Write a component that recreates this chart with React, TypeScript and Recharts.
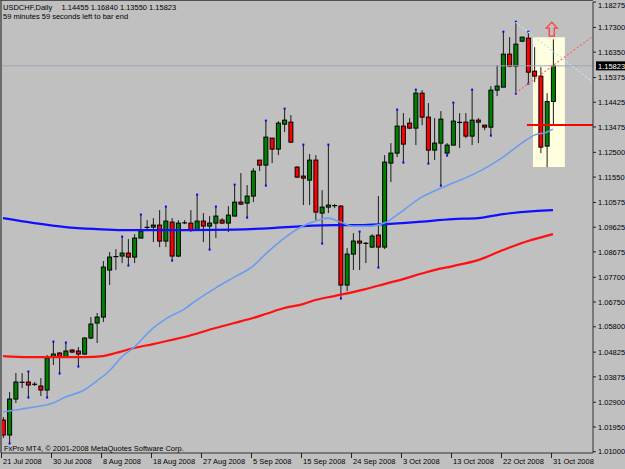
import React from 'react';
import { ComposedChart, Bar, Line, XAxis, YAxis, ReferenceLine, ReferenceArea, ReferenceDot } from 'recharts';

// ---- Daily USDCHF candles (Jul 21 2008 -> Oct 31 2008, incl. Sunday bars) ----
const opens = [
  1.02218, 1.01642, 1.03024, 1.03677, 1.03677, 1.03600, 1.03524, 1.03370, 1.04637, 1.04791,
  1.04637, 1.04906, 1.04868, 1.04752, 1.05367, 1.05943, 1.06173, 1.07978, 1.08477, 1.08516,
  1.08631, 1.08477, 1.09207, 1.09610, 1.09629, 1.09706, 1.09092, 1.09821, 1.08516, 1.09783,
  1.09783, 1.09514, 1.09860, 1.09668, 1.09783, 1.09898, 1.09783, 1.10052, 1.10589, 1.10551,
  1.10820, 1.12202, 1.12010, 1.13047, 1.12624, 1.13584, 1.13661, 1.11933, 1.11588, 1.11434,
  1.12202, 1.10167, 1.10397, 1.10474, 1.10436, 1.07402, 1.08592, 1.09092, 1.09015, 1.08861,
  1.09322, 1.08861, 1.12087, 1.12471, 1.13508, 1.13623, 1.13431, 1.14775, 1.13853, 1.12586,
  1.12855, 1.12471, 1.12778, 1.13661, 1.13661, 1.13124, 1.13738, 1.13546, 1.13469, 1.14890,
  1.15005, 1.16272, 1.15812, 1.16772, 1.16887, 1.15620, 1.15428, 1.12740, 1.14455,
];
const highs = [
  1.02333, 1.03293, 1.04023, 1.04023, 1.04061, 1.03677, 1.03831, 1.04714, 1.05213, 1.04829,
  1.05175, 1.04944, 1.05021, 1.05405, 1.06173, 1.06327, 1.08324, 1.08669, 1.08784, 1.09245,
  1.09168, 1.09360, 1.10090, 1.09898, 1.09975, 1.10282, 1.10397, 1.09975, 1.09898, 1.09898,
  1.10282, 1.10858, 1.10167, 1.10052, 1.10397, 1.09975, 1.10436, 1.11242, 1.11703, 1.11242,
  1.11895, 1.12202, 1.13700, 1.13047, 1.13700, 1.14160, 1.13930, 1.11972, 1.12778, 1.12432,
  1.12394, 1.11050, 1.12778, 1.10512, 1.10474, 1.08823, 1.09399, 1.09437, 1.09053, 1.09360,
  1.10820, 1.12394, 1.12855, 1.14122, 1.14007, 1.13815, 1.14890, 1.14890, 1.14391, 1.13815,
  1.14084, 1.12855, 1.14391, 1.14007, 1.14007, 1.14890, 1.13815, 1.13546, 1.15044, 1.15850,
  1.17117, 1.16925, 1.17501, 1.16944, 1.17117, 1.16541, 1.15773, 1.14775, 1.16840,
];
const lows = [
  1.01527, 1.01335, 1.02871, 1.03447, 1.03101, 1.03524, 1.03140, 1.03101, 1.04330, 1.04023,
  1.04599, 1.04791, 1.04292, 1.04714, 1.05328, 1.05175, 1.05981, 1.07402, 1.07978, 1.08247,
  1.08170, 1.08247, 1.09207, 1.09552, 1.09053, 1.08861, 1.08861, 1.08362, 1.08477, 1.09744,
  1.09437, 1.09514, 1.09053, 1.08784, 1.09207, 1.09744, 1.09437, 1.10052, 1.10474, 1.10013,
  1.10589, 1.11780, 1.11242, 1.12087, 1.12394, 1.13277, 1.12855, 1.11511, 1.10474, 1.10474,
  1.09898, 1.09015, 1.10167, 1.10359, 1.06903, 1.07172, 1.07978, 1.07978, 1.08247, 1.08823,
  1.08093, 1.08784, 1.11357, 1.12317, 1.12125, 1.13392, 1.12778, 1.13546, 1.12087, 1.12202,
  1.11242, 1.12394, 1.12778, 1.12663, 1.13047, 1.12778, 1.12855, 1.13354, 1.13162, 1.14660,
  1.15005, 1.15773, 1.14775, 1.16733, 1.15159, 1.15197, 1.12471, 1.11933, 1.13550,
];
const closes = [
  1.01642, 1.03024, 1.03677, 1.03658, 1.03562, 1.03581, 1.03370, 1.04599, 1.04752, 1.04637,
  1.04868, 1.04829, 1.04752, 1.05367, 1.05904, 1.06173, 1.08093, 1.08477, 1.08516, 1.08631,
  1.08477, 1.09207, 1.09476, 1.09629, 1.09706, 1.09092, 1.09860, 1.08516, 1.09783, 1.09802,
  1.09514, 1.09860, 1.09668, 1.09783, 1.10052, 1.09783, 1.10090, 1.10589, 1.10512, 1.10820,
  1.11780, 1.12010, 1.13085, 1.12624, 1.13623, 1.13738, 1.12893, 1.11549, 1.11511, 1.12202,
  1.10205, 1.10397, 1.10474, 1.10436, 1.07402, 1.08592, 1.09092, 1.09015, 1.08996, 1.09284,
  1.08861, 1.12125, 1.12471, 1.13508, 1.12816, 1.13431, 1.14775, 1.13853, 1.12586, 1.12855,
  1.13776, 1.12778, 1.13700, 1.13642, 1.13124, 1.13738, 1.13661, 1.13469, 1.14890, 1.15044,
  1.16272, 1.15812, 1.16656, 1.16925, 1.15581, 1.15428, 1.12701, 1.14455, 1.15823,
];

// small blue markers at some swing highs / lows
const markHigh = [4, 8, 10, 19, 22, 26, 31, 34, 37, 42, 45, 48, 52, 57, 63, 66, 72, 75, 80, 82, 84];
const markLow = [1, 4, 7, 9, 12, 20, 27, 33, 39, 42, 51, 54, 60, 64, 68, 70, 71, 78, 82, 84];

// moving averages (bar index, value)
const maSlowIdx = [0, 5, 10, 15, 19, 30, 37, 43, 48, 53, 57, 61, 66, 72, 76, 80, 85, 88];
const maSlowVal = [1.09975, 1.09783, 1.09629, 1.09552, 1.09514, 1.09514, 1.09533, 1.09591, 1.09668, 1.09706,
  1.09706, 1.09744, 1.09821, 1.09936, 1.09975, 1.10128, 1.10244, 1.10282];
const maMidIdx = [0, 4, 8, 13, 16, 18, 21, 24, 29, 34, 37, 40, 42, 45, 48, 50, 53, 56, 58, 61, 64, 67, 69, 72, 76, 80, 84, 88];
const maMidVal = [1.04676, 1.04637, 1.04637, 1.04637, 1.04676, 1.04791, 1.04983, 1.05136, 1.05405, 1.05751,
  1.05943, 1.06135, 1.06288, 1.06519, 1.06672, 1.06826, 1.06980, 1.07133, 1.07248, 1.07440,
  1.07632, 1.07844, 1.07978, 1.08132, 1.08362, 1.08746, 1.09092, 1.09360];
const maFastIdx = [0, 3, 5, 8, 10, 13, 15, 17, 19, 21, 24, 26, 29, 31, 34, 37, 40, 42, 45, 48, 50, 52, 54, 56, 59, 61, 63, 67, 69, 72, 75, 78, 80, 83, 85, 87, 88];
const maFastVal = [1.02525, 1.02640, 1.02717, 1.02871, 1.03101, 1.03370, 1.03716, 1.04100, 1.04637, 1.05021,
  1.05751, 1.06096, 1.06480, 1.06826, 1.07287, 1.07709, 1.08132, 1.08592, 1.09207, 1.09668,
  1.09860, 1.09975, 1.09821, 1.09668, 1.09668, 1.09783, 1.10090, 1.10781, 1.11012, 1.11319,
  1.11626, 1.12010, 1.12317, 1.12855, 1.13162, 1.13277, 1.13392];

const xTickIdx = [0, 8, 16, 24, 32, 40, 48, 56, 64, 72, 80, 88];
const xTickLabels = ['21 Jul 2008', '30 Jul 2008', '8 Aug 2008', '18 Aug 2008', '27 Aug 2008', '5 Sep 2008',
  '15 Sep 2008', '24 Sep 2008', '3 Oct 2008', '13 Oct 2008', '22 Oct 2008', '31 Oct 2008'];
const yTicks = [1.01000, 1.01950, 1.02900, 1.03875, 1.04825, 1.05800, 1.06750, 1.07700, 1.08675, 1.09625,
  1.10575, 1.11550, 1.12500, 1.13475, 1.14425, 1.15375, 1.16350, 1.17300, 1.18275];

const symbol = 'USDCHF,Daily';
const lastBid = 1.15823;
const supportLevel = 1.1355;
const headerValues = '1.14455 1.16840 1.13550 1.15823';
const timerText = '59 minutes 59 seconds left to bar end';
const copyright = 'FxPro MT4, \u00A9 2001-2008 MetaQuotes Software Corp.';

const data = opens.map((o, i) => ({
  i,
  open: o,
  high: highs[i],
  low: lows[i],
  close: closes[i],
  range: [lows[i], highs[i]],
  mh: markHigh.includes(i),
  ml: markLow.includes(i),
}));
const maSlow = maSlowIdx.map((i, k) => ({ i, v: maSlowVal[k] }));
const maMid = maMidIdx.map((i, k) => ({ i, v: maMidVal[k] }));
const maFast = maFastIdx.map((i, k) => ({ i, v: maFastVal[k] }));

const W = 625;
const H = 469;
const FONT = '"Liberation Sans", Arial, sans-serif';
const BG = '#c0c0c0';

const Candle = (props: any) => {
  const { x, y, width, height, payload } = props;
  if (!payload || x == null) return null;
  const top = Math.min(y, y + height);
  const h = Math.abs(height);
  const { open, high, low, close } = payload;
  const span = high - low || 1e-9;
  const py = (v: number) => top + ((high - v) / span) * h;
  const cx = x + width / 2;
  const bTop = py(Math.max(open, close));
  const bBot = py(Math.min(open, close));
  const bull = close >= open;
  const bh = bBot - bTop;
  return (
    <g>
      <line x1={cx} x2={cx} y1={top} y2={top + h} stroke="#1a1a1a" strokeWidth={1} />
      {bh < 1.5 ? (
        <line x1={cx - 2.5} x2={cx + 2.5} y1={(bTop + bBot) / 2} y2={(bTop + bBot) / 2} stroke="#000" strokeWidth={1.2} />
      ) : (
        <rect x={cx - 2} y={bTop} width={4} height={bh} fill={bull ? '#008000' : '#ff0000'} stroke="#000" strokeWidth={1} />
      )}
      {payload.mh && <rect x={cx - 1} y={top - 1.5} width={2} height={2} fill="#0000ff" />}
      {payload.ml && <rect x={cx - 1} y={top + h - 0.5} width={2} height={2} fill="#0000ff" />}
    </g>
  );
};

const XTick = (props: any) => {
  const { x, payload } = props;
  const k = xTickIdx.indexOf(payload.value);
  return (
    <g>
      <line x1={x - 1.5} x2={x - 1.5} y1={453} y2={458} stroke="#202020" strokeWidth={1} />
      <text x={x} y={463.5} fontFamily={FONT} fontSize={7.5} fill="#000" textAnchor="start">
        {k >= 0 ? xTickLabels[k] : ''}
      </text>
    </g>
  );
};

const YTick = (props: any) => {
  const { y, payload } = props;
  const ty = Math.max(y + 2.7, 7.5);
  return (
    <g>
      <line x1={593} x2={596} y1={y} y2={y} stroke="#202020" strokeWidth={1} />
      <text x={598} y={ty} fontFamily={FONT} fontSize={7.5} fill="#000" textAnchor="start">
        {payload.value.toFixed(5)}
      </text>
    </g>
  );
};

const BidLabel = (props: any) => {
  const vb = props.viewBox || {};
  const yy = vb.y ?? 0;
  return (
    <g>
      <rect x={596} y={yy - 4.5} width={29} height={9} fill="#000" />
      <text x={598} y={yy + 2.7} fontFamily={FONT} fontSize={7.5} fill="#fff">
        {lastBid.toFixed(5)}
      </text>
    </g>
  );
};

const UpArrow = (props: any) => {
  const { cx, cy } = props;
  if (cx == null) return null;
  const pts = [
    [0, -7], [-5.5, -1], [-2.5, -1], [-2.5, 7], [2.5, 7], [2.5, -1], [5.5, -1],
  ].map(([a, b]) => `${cx + a},${cy + b}`).join(' ');
  return <polygon points={pts} fill="none" stroke="#ff3c3c" strokeWidth={1.3} />;
};

export default function App() {
  return (
    <div style={{ position: 'absolute', left: 0, top: 0, width: W, height: H, background: BG }}>
      <ComposedChart
        width={W}
        height={H}
        data={data}
        margin={{ top: 2, right: 0, bottom: 0, left: 2 }}
      >
        <XAxis
          dataKey="i"
          type="number"
          domain={[-0.16, 94.4]}
          allowDataOverflow
          ticks={xTickIdx}
          interval={0}
          height={16}
          tickLine={false}
          axisLine={{ stroke: '#303030', strokeWidth: 1 }}
          tick={<XTick />}
        />
        <YAxis
          orientation="right"
          type="number"
          domain={[1.00951, 1.18276]}
          allowDataOverflow
          ticks={yTicks}
          interval={0}
          width={32}
          tickLine={false}
          axisLine={{ stroke: '#303030', strokeWidth: 1 }}
          tick={<YTick />}
        />
        <ReferenceArea x1={84.8} x2={89.9} y1={1.11933} y2={1.16925} fill="#ffffe0" fillOpacity={1} stroke="none" ifOverflow="visible" />
        <ReferenceLine y={lastBid} stroke="#9ea6b6" strokeWidth={1} label={<BidLabel />} ifOverflow="visible" />
        <ReferenceLine
          segment={[{ x: 82, y: lows[82] }, { x: 94.4, y: 1.16964 }]}
          stroke="#ff6464"
          strokeWidth={1.2}
          strokeDasharray="2 2"
        />
        <ReferenceLine
          segment={[{ x: 82, y: highs[82] }, { x: 94.4, y: 1.15197 }]}
          stroke="#bde6ee"
          strokeWidth={1.2}
          strokeDasharray="2 2"
        />
        <Bar dataKey="range" barSize={5} shape={<Candle />} isAnimationActive={false} />
        <Line data={maSlow} dataKey="v" type="monotone" stroke="#1010ff" strokeWidth={2.2} dot={false} isAnimationActive={false} />
        <Line data={maMid} dataKey="v" type="monotone" stroke="#ff1010" strokeWidth={2.2} dot={false} isAnimationActive={false} />
        <Line data={maFast} dataKey="v" type="monotone" stroke="#6a9cf0" strokeWidth={1.6} dot={false} isAnimationActive={false} />
        <ReferenceLine
          segment={[{ x: 83.84, y: supportLevel }, { x: 94.4, y: supportLevel }]}
          stroke="#ff0000"
          strokeWidth={2}
        />
        <ReferenceDot x={87.8} y={1.17232} r={6} shape={<UpArrow />} ifOverflow="visible" />
      </ComposedChart>
      <svg width={W} height={H} style={{ position: 'absolute', left: 0, top: 0, pointerEvents: 'none' }}>
        <line x1={0} x2={593} y1={0.5} y2={0.5} stroke="#505050" strokeWidth={1} />
        <line x1={1} x2={1} y1={0} y2={453} stroke="#505050" strokeWidth={1.5} />
        <text x={3} y={10} fontFamily={FONT} fontSize={7.5} fill="#000">{symbol}</text>
        <text x={61.5} y={10} fontFamily={FONT} fontSize={7.5} fill="#000">{headerValues}</text>
        <text x={3} y={18.5} fontFamily={FONT} fontSize={7.5} fill="#000">{timerText}</text>
        <text x={4} y={451} fontFamily={FONT} fontSize={7.5} fill="#000">{copyright}</text>
      </svg>
    </div>
  );
}
